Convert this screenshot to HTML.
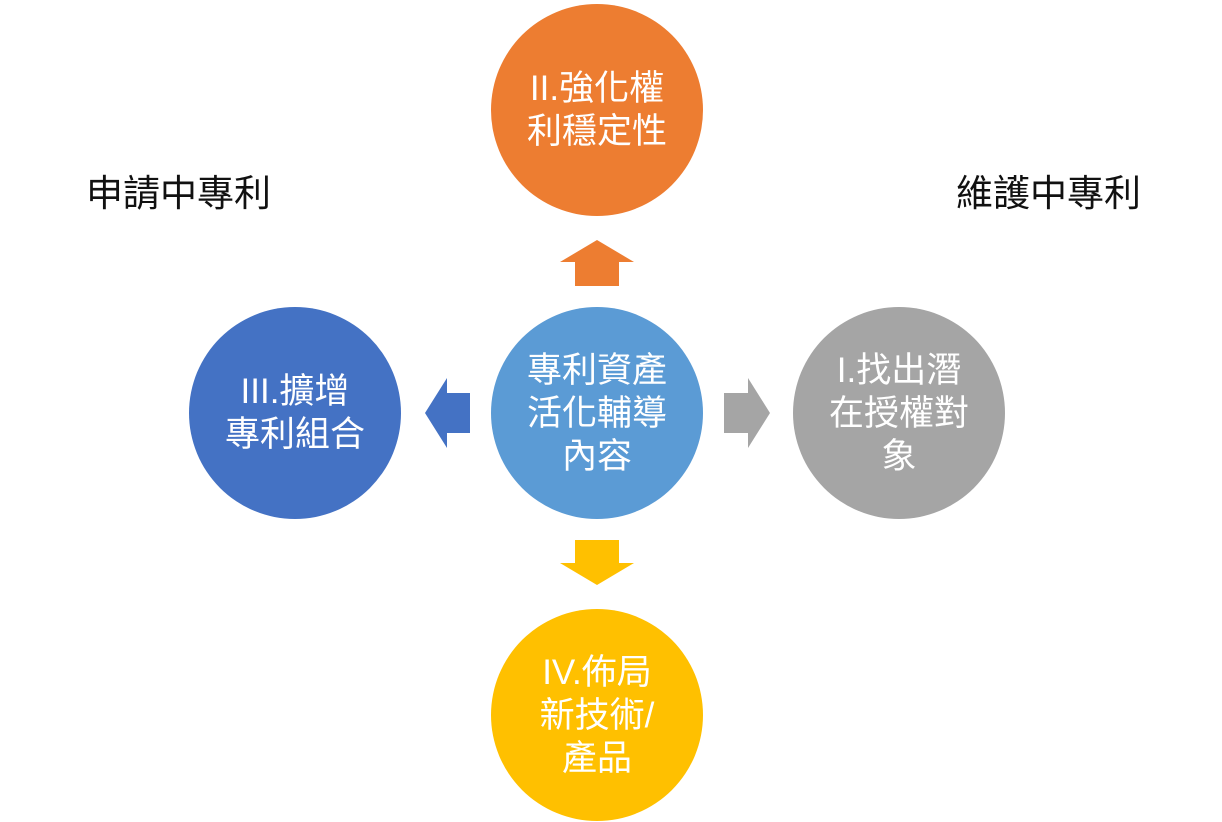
<!DOCTYPE html>
<html><head><meta charset="utf-8"><style>
body{margin:0;width:1222px;height:822px;background:#fff;overflow:hidden;position:relative;font-family:"Liberation Sans","Noto Sans CJK TC",sans-serif}
.c{position:absolute;width:212px;height:212px;border-radius:50%;display:flex;align-items:center;justify-content:center;text-align:center;color:#fff;font-size:35px;line-height:43px}
.l{position:absolute;font-size:37px;color:#111;line-height:40px}
</style></head><body>
<div class="c" style="left:491px;top:4px;background:#ED7D31">II.強化權<br>利穩定性</div>
<div class="c" style="left:189px;top:307px;background:#4472C4">III.擴增<br>專利組合</div>
<div class="c" style="left:491px;top:307px;background:#5B9BD5">專利資產<br>活化輔導<br>內容</div>
<div class="c" style="left:793px;top:307px;background:#A5A5A5">I.找出潛<br>在授權對<br>象</div>
<div class="c" style="left:491px;top:609px;background:#FFC000">IV.佈局<br>新技術/<br>產品</div>
<div class="l" style="left:86px;top:174px">申請中專利</div>
<div class="l" style="left:956px;top:174px">維護中專利</div>
<svg width="1222" height="822" style="position:absolute;left:0;top:0">
<polygon points="597,240 634,262 619,262 619,286 575,286 575,262 560,262" fill="#ED7D31"/>
<polygon points="597,585 634,563 619,563 619,540 575,540 575,563 560,563" fill="#FFC000"/>
<polygon points="425,413 447,378 447,393 470,393 470,433 447,433 447,448" fill="#4472C4"/>
<polygon points="770,413 748,378 748,393 724,393 724,433 748,433 748,448" fill="#A5A5A5"/>
</svg>
</body></html>
